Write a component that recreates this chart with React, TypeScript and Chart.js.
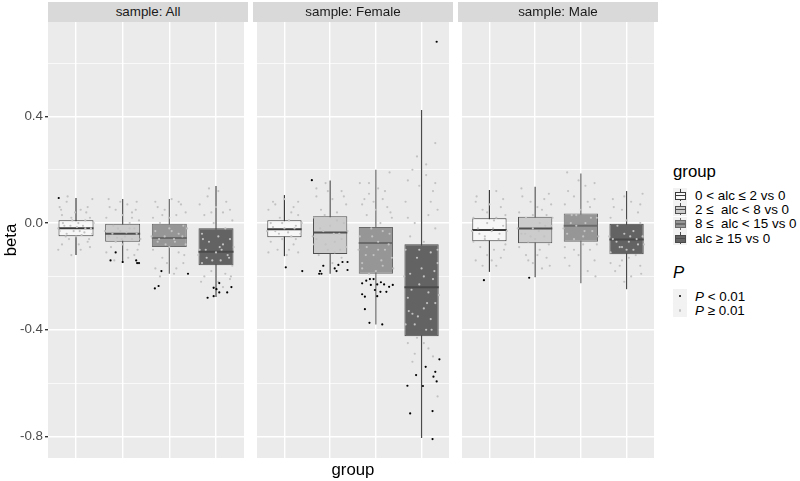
import React, { useEffect, useRef } from "react";
import { Chart, registerables } from "chart.js";

Chart.register(...registerables);

// ---------- data ----------
const PANELS = ["All", "Female", "Male"];
const GROUPS = ["0 < alc \u2264 2 vs 0", "2 \u2264  alc < 8 vs 0", "8 \u2264  alc < 15 vs 0", "alc \u2265 15 vs 0"];
const Y_TICKS = [-0.8, -0.6, -0.4, -0.2, 0, 0.2, 0.4, 0.6];
const Y_LABELLED = [-0.8, -0.4, 0, 0.4];
const Y_MIN = -0.881;
const Y_MAX = 0.754;

// box statistics, one row per panel (All, Female, Male), one value per group
const WHISKER_LO = [
  [-0.12, -0.15, -0.19, -0.277],
  [-0.124, -0.19, -0.38, -0.806],
  [-0.183, -0.203, -0.226, -0.248],
];
const Q1 = [
  [-0.049, -0.07, -0.09, -0.158],
  [-0.053, -0.116, -0.19, -0.424],
  [-0.068, -0.076, -0.07, -0.117],
];
const MEDIAN = [
  [-0.019, -0.04, -0.056, -0.108],
  [-0.023, -0.035, -0.075, -0.241],
  [-0.026, -0.02, -0.01, -0.062],
];
const Q3 = [
  [0.011, 0.0, 0.0, -0.019],
  [0.011, 0.026, -0.015, -0.079],
  [0.018, 0.024, 0.036, 0.0],
];
const WHISKER_HI = [
  [0.094, 0.09, 0.09, 0.139],
  [0.105, 0.16, 0.2, 0.424],
  [0.124, 0.136, 0.186, 0.12],
];

// jittered estimates: [group, jitter offset, beta]
const SIG_ALL = [
  [0, -0.37, 0.094],
  [1, -0.26, -0.14], [1, -0.15, -0.11], [1, 0.0, -0.146], [1, 0.29, -0.14], [1, 0.31, -0.15], [1, 0.35, -0.15],
  [2, -0.17, -0.18], [2, -0.31, -0.245], [2, -0.23, -0.236], [2, 0.4, -0.19],
  [3, -0.18, -0.28], [3, -0.05, -0.274], [3, 0.01, -0.248], [3, 0.07, -0.225], [3, 0.07, -0.26], [3, 0.24, -0.26], [3, 0.33, -0.24], [3, -0.05, -0.243],
];
const SIG_FEMALE = [
  [0, 0.03, -0.166], [0, 0.39, -0.18],
  [1, -0.4, 0.161], [1, -0.15, -0.16], [1, -0.22, -0.18], [1, -0.24, -0.19], [1, -0.19, -0.19], [1, 0.1, -0.17],
  [1, 0.14, -0.18], [1, 0.18, -0.157], [1, 0.27, -0.146], [1, 0.38, -0.146], [1, 0.38, -0.176],
  [2, -0.3, -0.226], [2, -0.21, -0.216], [2, -0.13, -0.21], [2, -0.05, -0.21], [2, 0.03, -0.23], [2, 0.11, -0.222],
  [2, 0.18, -0.23], [2, 0.23, -0.258], [2, 0.29, -0.239], [2, 0.37, -0.232], [2, -0.3, -0.267], [2, -0.24, -0.276],
  [2, -0.02, -0.251], [2, 0.03, -0.274], [2, 0.1, -0.258], [2, -0.24, -0.323], [2, -0.14, -0.374], [2, 0.14, -0.38], [2, -0.11, -0.232],
  [3, 0.33, 0.68], [3, 0.39, -0.511], [3, 0.09, -0.539], [3, -0.12, -0.57], [3, 0.3, -0.558], [3, 0.26, -0.576],
  [3, 0.33, -0.594], [3, -0.31, -0.61], [3, 0.03, -0.611], [3, -0.25, -0.714], [3, 0.24, -0.705], [3, 0.24, -0.81],
];
const SIG_MALE = [
  [0, -0.12, -0.214],
  [1, -0.13, -0.205],
];

const NS_ALL = [
  [0, -0.35, 0.06], [0, -0.2, 0.08], [0, 0.1, 0.05], [0, 0.25, 0.06], [0, 0.35, 0.09], [0, -0.3, 0.03], [0, 0.3, 0.02],
  [0, -0.1, 0.02], [0, 0.05, 0.0], [0, -0.25, -0.01], [0, 0.2, -0.02], [0, -0.05, -0.03], [0, 0.15, -0.01], [0, -0.35, -0.03],
  [0, 0.35, -0.04], [0, 0.0, -0.05], [0, -0.15, -0.06], [0, 0.25, -0.07], [0, -0.3, -0.08], [0, 0.1, -0.1], [0, -0.1, -0.12],
  [0, 0.3, -0.09], [0, 0.2, 0.01], [0, -0.2, -0.04], [0, 0.08, -0.03],
  [0, -0.38, -0.02], [0, -0.28, 0.0], [0, -0.12, -0.01], [0, 0.02, -0.015], [0, 0.18, -0.035], [0, 0.32, -0.02], [0, -0.22, -0.05],
  [0, 0.12, -0.045], [0, -0.08, 0.01], [0, 0.38, 0.0], [0, -0.32, 0.05], [0, 0.22, 0.04], [0, -0.02, 0.04], [0, 0.28, -0.06],
  [0, -0.18, 0.1], [0, 0.06, -0.08], [0, -0.38, -0.1],
  [1, -0.3, 0.09], [1, 0.1, 0.07], [1, 0.3, 0.08], [1, -0.15, 0.05], [1, 0.2, 0.04], [1, -0.35, 0.02], [1, 0.0, 0.03],
  [1, 0.35, 0.01], [1, -0.2, -0.01], [1, 0.15, -0.02], [1, -0.05, -0.03], [1, 0.3, -0.04], [1, -0.3, -0.05], [1, 0.05, -0.05],
  [1, 0.2, -0.06], [1, -0.15, -0.07], [1, 0.35, -0.08], [1, -0.25, -0.09], [1, 0.1, -0.1], [1, -0.35, -0.11], [1, 0.25, -0.12],
  [1, 0.0, -0.08], [1, -0.1, -0.02],
  [1, -0.38, -0.03], [1, -0.22, -0.04], [1, 0.08, -0.035], [1, 0.25, -0.02], [1, -0.12, -0.055], [1, 0.38, -0.06], [1, 0.15, 0.0],
  [1, -0.28, 0.06], [1, 0.28, 0.05], [1, -0.05, 0.08], [1, 0.12, -0.13], [1, -0.18, -0.14], [1, 0.32, -0.1], [1, -0.02, -0.06],
  [1, 0.2, 0.02],
  [2, -0.3, 0.08], [2, 0.05, 0.09], [2, 0.25, 0.07], [2, -0.1, 0.05], [2, 0.35, 0.04], [2, -0.35, 0.02], [2, 0.15, 0.03],
  [2, -0.2, 0.0], [2, 0.3, -0.01], [2, 0.0, -0.02], [2, -0.3, -0.03], [2, 0.2, -0.04], [2, -0.1, -0.05], [2, 0.1, -0.06],
  [2, -0.25, -0.07], [2, 0.35, -0.08], [2, 0.0, -0.09], [2, -0.35, -0.1], [2, 0.2, -0.11], [2, -0.15, -0.13], [2, 0.3, -0.15],
  [2, -0.3, -0.17], [2, 0.1, -0.19],
  [2, -0.38, -0.05], [2, -0.22, -0.06], [2, 0.12, -0.07], [2, 0.28, -0.05], [2, -0.08, -0.08], [2, 0.05, -0.03], [2, 0.38, -0.02],
  [2, -0.15, 0.03], [2, 0.2, 0.08], [2, -0.25, 0.06], [2, 0.32, -0.12], [2, -0.05, -0.15], [2, 0.15, -0.17], [2, -0.2, -0.2],
  [2, 0.0, 0.02],
  [3, -0.15, 0.13], [3, -0.35, 0.07], [3, 0.0, 0.06], [3, 0.3, 0.05], [3, 0.15, 0.04], [3, -0.25, 0.03], [3, 0.35, 0.01],
  [3, -0.05, 0.0], [3, 0.2, -0.02], [3, -0.3, -0.04], [3, 0.05, -0.05], [3, 0.3, -0.06], [3, -0.15, -0.07], [3, 0.15, -0.08],
  [3, -0.35, -0.1], [3, 0.0, -0.11], [3, 0.25, -0.12], [3, -0.2, -0.13], [3, 0.1, -0.14], [3, -0.3, -0.15], [3, 0.35, -0.16],
  [3, -0.1, -0.18], [3, 0.2, -0.19], [3, -0.25, -0.2], [3, 0.05, -0.22], [3, 0.3, -0.21], [3, -0.05, -0.24],
  [3, -0.38, -0.12], [3, -0.22, -0.1], [3, 0.12, -0.1], [3, 0.28, -0.13], [3, -0.08, -0.14], [3, 0.08, -0.09], [3, 0.38, -0.09],
  [3, -0.28, -0.06], [3, 0.22, 0.08], [3, -0.18, 0.1], [3, 0.05, 0.12], [3, -0.1, 0.04], [3, 0.32, -0.2], [3, -0.32, -0.22],
  [3, 0.15, -0.24],
];
const NS_FEMALE = [
  [0, -0.35, 0.05], [0, -0.2, 0.07], [0, 0.0, 0.09], [0, 0.2, 0.06], [0, 0.3, 0.03], [0, -0.1, 0.02], [0, 0.1, 0.01],
  [0, -0.3, 0.0], [0, 0.25, -0.01], [0, 0.0, -0.02], [0, -0.2, -0.03], [0, 0.35, -0.04], [0, 0.15, -0.05], [0, -0.05, -0.06],
  [0, -0.3, -0.07], [0, 0.2, -0.08], [0, -0.15, -0.1], [0, 0.3, -0.11], [0, 0.05, -0.12],
  [0, -0.38, -0.03], [0, -0.25, -0.015], [0, 0.08, -0.035], [0, 0.22, -0.02], [0, 0.38, 0.0], [0, -0.12, -0.04], [0, 0.15, 0.04],
  [0, -0.25, 0.08], [0, 0.3, 0.08], [0, -0.05, 0.0], [0, 0.1, -0.1], [0, -0.35, -0.11], [0, 0.25, -0.06],
  [1, -0.1, 0.15], [1, 0.25, 0.12], [1, -0.3, 0.1], [1, 0.05, 0.09], [1, 0.35, 0.07], [1, -0.2, 0.05], [1, 0.15, 0.04],
  [1, -0.35, 0.02], [1, 0.3, 0.0], [1, 0.0, -0.01], [1, -0.15, -0.03], [1, 0.2, -0.04], [1, -0.3, -0.06], [1, 0.1, -0.07],
  [1, 0.35, -0.09], [1, -0.05, -0.1], [1, -0.25, -0.12], [1, 0.25, -0.13], [1, 0.05, -0.15], [1, -0.15, -0.16],
  [1, -0.38, -0.05], [1, -0.22, -0.02], [1, 0.08, -0.04], [1, 0.25, -0.06], [1, -0.1, -0.08], [1, 0.38, -0.03], [1, 0.15, 0.01],
  [1, -0.3, 0.13], [1, 0.3, 0.1], [1, -0.05, 0.12], [1, 0.1, -0.11], [1, -0.12, 0.03], [1, 0.22, -0.1], [1, -0.35, -0.08],
  [2, -0.35, 0.15], [2, 0.3, 0.19], [2, 0.05, 0.13], [2, -0.15, 0.11], [2, 0.15, 0.09], [2, -0.3, 0.07], [2, 0.25, 0.06],
  [2, 0.0, 0.05], [2, -0.2, 0.03], [2, 0.35, 0.02], [2, 0.1, 0.0], [2, -0.1, -0.02], [2, 0.3, -0.04], [2, -0.35, -0.05],
  [2, 0.05, -0.07], [2, -0.2, -0.09], [2, 0.2, -0.1], [2, -0.05, -0.12], [2, 0.35, -0.13], [2, -0.3, -0.15], [2, 0.15, -0.16],
  [2, 0.0, -0.18], [2, -0.15, -0.19],
  [2, -0.38, -0.1], [2, -0.22, -0.12], [2, 0.12, -0.14], [2, 0.28, -0.08], [2, -0.08, -0.05], [2, 0.05, -0.1], [2, 0.38, -0.17],
  [2, -0.15, 0.15], [2, 0.2, 0.12], [2, -0.25, 0.09], [2, 0.32, 0.04], [2, -0.05, 0.08], [2, 0.15, -0.03], [2, -0.3, -0.17],
  [3, 0.3, 0.3], [3, -0.2, 0.2], [3, 0.1, 0.18], [3, -0.3, 0.16], [3, 0.25, 0.12], [3, -0.05, 0.14], [3, 0.35, 0.05],
  [3, -0.35, 0.08], [3, 0.15, 0.03], [3, -0.15, 0.0], [3, 0.3, -0.02], [3, -0.25, -0.05], [3, 0.05, -0.07], [3, -0.35, -0.1],
  [3, 0.2, -0.11], [3, -0.1, -0.13], [3, 0.35, -0.15], [3, 0.0, -0.17], [3, -0.25, -0.19], [3, 0.25, -0.21], [3, -0.05, -0.23],
  [3, 0.15, -0.26], [3, -0.3, -0.28], [3, 0.3, -0.3], [3, 0.05, -0.32], [3, -0.2, -0.34], [3, 0.2, -0.36], [3, -0.35, -0.38],
  [3, 0.1, -0.4], [3, -0.1, -0.43], [3, -0.3, -0.45], [3, 0.15, -0.47], [3, -0.15, -0.49], [3, 0.35, -0.65],
  [3, -0.38, -0.2], [3, -0.22, -0.25], [3, 0.12, -0.3], [3, 0.28, -0.18], [3, -0.08, -0.35], [3, 0.05, -0.2], [3, 0.38, -0.27],
  [3, -0.28, -0.33], [3, 0.22, -0.4], [3, -0.15, -0.38], [3, 0.35, -0.1], [3, -0.05, -0.1], [3, 0.2, 0.08], [3, -0.3, 0.02],
  [3, 0.1, 0.22], [3, -0.1, 0.25], [3, 0.25, -0.5], [3, -0.2, -0.52], [3, 0.05, -0.45], [3, 0.3, 0.15],
];
const NS_MALE = [
  [0, 0.15, 0.12], [0, -0.3, 0.08], [0, 0.0, 0.07], [0, 0.25, 0.06], [0, -0.15, 0.05], [0, 0.35, 0.03], [0, -0.35, 0.02],
  [0, 0.1, 0.01], [0, -0.05, 0.0], [0, 0.3, -0.01], [0, -0.25, -0.02], [0, 0.05, -0.03], [0, -0.1, -0.05], [0, 0.2, -0.06],
  [0, -0.35, -0.07], [0, 0.35, -0.08], [0, -0.2, -0.09], [0, 0.1, -0.1], [0, -0.05, -0.12], [0, 0.25, -0.13], [0, -0.3, -0.14],
  [0, 0.15, -0.16],
  [0, -0.38, -0.03], [0, -0.22, -0.04], [0, 0.08, -0.02], [0, 0.22, -0.04], [0, 0.38, -0.03], [0, -0.1, -0.06], [0, 0.15, 0.02],
  [0, -0.28, 0.1], [0, 0.3, 0.09], [0, -0.05, 0.04], [0, 0.05, -0.14], [0, -0.15, -0.16], [0, 0.32, -0.1],
  [1, -0.3, 0.13], [1, 0.2, 0.09], [1, 0.35, 0.07], [1, -0.1, 0.08], [1, 0.05, 0.06], [1, -0.35, 0.04], [1, 0.25, 0.03],
  [1, -0.2, 0.02], [1, 0.1, 0.0], [1, 0.35, -0.01], [1, -0.05, -0.02], [1, -0.3, -0.04], [1, 0.2, -0.05], [1, 0.0, -0.06],
  [1, -0.15, -0.07], [1, 0.3, -0.08], [1, -0.35, -0.09], [1, 0.1, -0.1], [1, -0.2, -0.12], [1, 0.25, -0.13], [1, -0.05, -0.15],
  [1, 0.15, -0.17],
  [1, -0.38, -0.02], [1, -0.22, -0.04], [1, 0.08, -0.03], [1, 0.22, -0.01], [1, 0.38, 0.02], [1, -0.1, -0.05], [1, 0.15, 0.05],
  [1, -0.28, 0.1], [1, 0.3, 0.11], [1, -0.05, 0.03], [1, 0.05, -0.12], [1, -0.15, -0.14], [1, 0.32, -0.16],
  [2, -0.3, 0.19], [2, 0.1, 0.14], [2, -0.15, 0.1], [2, 0.3, 0.09], [2, -0.35, 0.07], [2, 0.2, 0.06], [2, 0.0, 0.05],
  [2, -0.2, 0.03], [2, 0.35, 0.02], [2, 0.1, 0.0], [2, -0.1, -0.01], [2, 0.25, -0.03], [2, -0.3, -0.04], [2, 0.05, -0.05],
  [2, -0.15, -0.06], [2, 0.35, -0.08], [2, -0.35, -0.09], [2, 0.2, -0.1], [2, -0.05, -0.12], [2, 0.3, -0.14], [2, -0.25, -0.16],
  [2, 0.15, -0.18],
  [2, -0.38, -0.02], [2, -0.22, 0.0], [2, 0.08, -0.03], [2, 0.22, 0.02], [2, 0.38, -0.05], [2, -0.1, 0.03], [2, 0.15, 0.08],
  [2, -0.28, 0.12], [2, 0.3, 0.15], [2, -0.05, 0.16], [2, 0.05, -0.08], [2, -0.15, -0.1], [2, 0.32, -0.2], [2, -0.35, -0.13],
  [3, -0.3, 0.09], [3, 0.1, 0.08], [3, 0.35, 0.11], [3, -0.1, 0.05], [3, 0.25, 0.04], [3, -0.35, 0.02], [3, 0.0, 0.01],
  [3, 0.3, 0.0], [3, -0.2, -0.01], [3, 0.15, -0.03], [3, -0.05, -0.04], [3, 0.35, -0.05], [3, -0.3, -0.06], [3, 0.05, -0.07],
  [3, 0.25, -0.08], [3, -0.15, -0.09], [3, 0.0, -0.1], [3, -0.35, -0.11], [3, 0.2, -0.12], [3, -0.1, -0.14], [3, 0.3, -0.16],
  [3, -0.25, -0.18], [3, 0.1, -0.2], [3, -0.05, -0.22],
  [3, -0.38, -0.05], [3, -0.22, -0.07], [3, 0.08, -0.05], [3, 0.22, -0.06], [3, 0.38, -0.08], [3, -0.1, -0.09], [3, 0.15, -0.1],
  [3, -0.28, 0.06], [3, 0.3, 0.07], [3, -0.05, 0.1], [3, 0.05, -0.13], [3, -0.15, -0.16], [3, 0.32, -0.19], [3, -0.35, -0.15],
];
const SIG = [SIG_ALL, SIG_FEMALE, SIG_MALE];
const NS = [NS_ALL, NS_FEMALE, NS_MALE];

// ---------- style ----------
const FONT = "'Liberation Sans', Arial, Helvetica, sans-serif";
const FILLS = ["#F7F7F7", "#CCCCCC", "#969696", "#636363"];
const OUTLINES = ["#3A3A3A", "#505050", "#6A6A6A", "#4A4A4A"];
const NS_COLOR = "#C2C2C2";
const PANEL_LEFT = [48, 253, 458];
const PANEL_W = 200;
const PANEL_TOP = 22;
const PANEL_BOTTOM = 458;
const H = 481;

const bgPlugin = {
  id: "panelBg",
  beforeDraw(chart: any) {
    const { ctx, chartArea: a } = chart;
    ctx.save();
    ctx.fillStyle = "#EBEBEB";
    ctx.fillRect(a.left, a.top, a.right - a.left, a.bottom - a.top);
    ctx.restore();
  },
};

function Panel({ p }: { p: number }) {
  const ref = useRef<HTMLCanvasElement>(null);
  const showY = p === 0;
  const w = showY ? PANEL_LEFT[0] + PANEL_W : PANEL_W;
  const left = showY ? 0 : PANEL_LEFT[p];

  useEffect(() => {
    const xs = [1, 2, 3, 4];
    const segColor = (per: number) => (c: any) => OUTLINES[Math.floor(c.p0DataIndex / per)];
    const chart = new Chart(ref.current as HTMLCanvasElement, {
      type: "bar",
      data: {
        datasets: [
          {
            type: "scatter",
            label: "P < 0.01",
            data: SIG[p].map(([g, dx, v]) => ({ x: g + 1 + dx, y: v })),
            pointRadius: 1.1,
            pointBackgroundColor: "#000000",
            pointBorderWidth: 0,
            order: 0,
          },
          {
            type: "scatter",
            label: "P \u2265 0.01",
            data: NS[p].map(([g, dx, v]) => ({ x: g + 1 + dx, y: v })),
            pointRadius: 1.1,
            pointBackgroundColor: NS_COLOR,
            pointBorderWidth: 0,
            order: 1,
          },
          {
            type: "line",
            label: "median",
            data: xs.flatMap((x, i) => [
              { x: x - 0.375, y: MEDIAN[p][i] },
              { x: x + 0.375, y: MEDIAN[p][i] },
              { x: x + 0.5, y: null },
            ]),
            borderWidth: 2,
            borderColor: "#333333",
            segment: { borderColor: segColor(3) },
            pointRadius: 0,
            spanGaps: false,
            order: 2,
          },
          {
            type: "bar",
            label: "box",
            data: xs.map((x, i) => ({ x, y: [Q1[p][i], Q3[p][i]] })),
            backgroundColor: FILLS,
            borderColor: OUTLINES,
            borderWidth: 1,
            borderSkipped: false,
            barPercentage: 0.75,
            categoryPercentage: 1,
            grouped: false,
            order: 3,
          },
          {
            type: "line",
            label: "whisker",
            data: xs.flatMap((x, i) => [
              { x, y: WHISKER_LO[p][i] },
              { x, y: WHISKER_HI[p][i] },
              { x, y: null },
            ]),
            borderWidth: 1.2,
            borderColor: "#555555",
            segment: { borderColor: segColor(3) },
            pointRadius: 0,
            spanGaps: false,
            order: 4,
          },
        ] as any,
      },
      options: {
        animation: false,
        responsive: false,
        events: [],
        layout: { padding: { top: PANEL_TOP, bottom: H - PANEL_BOTTOM, left: 0, right: 0 } },
        plugins: { legend: { display: false }, tooltip: { enabled: false } },
        scales: {
          x: {
            type: "linear",
            min: 0.4,
            max: 4.6,
            offset: false,
            afterBuildTicks: (s: any) => {
              s.ticks = xs.map((value) => ({ value }));
            },
            afterFit: (s: any) => {
              s.height = 0;
            },
            ticks: { display: false },
            grid: { color: "#FFFFFF", lineWidth: 1.4, drawTicks: false, offset: false },
            border: { display: false },
          },
          y: {
            type: "linear",
            min: Y_MIN,
            max: Y_MAX,
            afterBuildTicks: (s: any) => {
              s.ticks = Y_TICKS.map((value) => ({ value }));
            },
            afterFit: (s: any) => {
              s.width = showY ? PANEL_LEFT[0] : 0;
            },
            ticks: {
              display: showY,
              padding: 2,
              color: "#4D4D4D",
              font: { family: FONT, size: 13.4 },
              callback: (v: any) => (Y_LABELLED.includes(v) ? Number(v).toFixed(1) : ""),
            },
            grid: {
              color: "#FFFFFF",
              lineWidth: (c: any) => (Y_LABELLED.includes(c.tick && c.tick.value) ? 1.4 : 0.7),
              drawTicks: showY,
              tickLength: 3,
              tickColor: (c: any) => (Y_LABELLED.includes(c.tick && c.tick.value) ? "#333333" : "rgba(0,0,0,0)"),
            },
            border: { display: false },
          },
        },
      } as any,
      plugins: [bgPlugin],
    });
    return () => chart.destroy();
  }, [p]);

  return (
    <canvas
      ref={ref}
      width={w}
      height={H}
      style={{ position: "absolute", left, top: 0, width: w, height: H }}
    />
  );
}

function BoxKey({ i }: { i: number }) {
  return (
    <div style={{ position: "relative", width: 14, height: 14, background: "#F2F2F2" }}>
      <div style={{ position: "absolute", left: 7, top: 1, width: 1, height: 12, background: OUTLINES[i] }} />
      <div
        style={{
          position: "absolute",
          left: 2,
          top: 3.5,
          width: 9,
          height: 6,
          background: FILLS[i],
          border: `1px solid ${OUTLINES[i]}`,
        }}
      />
      <div style={{ position: "absolute", left: 2, top: 6.5, width: 11, height: 1.5, background: OUTLINES[i] }} />
    </div>
  );
}

function DotKey({ color }: { color: string }) {
  return (
    <div style={{ position: "relative", width: 14, height: 14, background: "#F2F2F2" }}>
      <div style={{ position: "absolute", left: 6, top: 6, width: 2.2, height: 2.2, borderRadius: 2, background: color }} />
    </div>
  );
}

export default function App() {
  const text = { fontFamily: FONT, position: "absolute" as const, whiteSpace: "pre" as const };
  const rowTops = [188, 202.4, 216.8, 231.2];
  return (
    <div
      style={{
        position: "fixed",
        left: 0,
        top: 0,
        width: 800,
        height: H,
        background: "#FFFFFF",
        overflow: "hidden",
      }}
    >
      {PANELS.map((_, p) => (
        <Panel key={p} p={p} />
      ))}
      {PANELS.map((name, p) => (
        <div
          key={"s" + p}
          style={{
            ...text,
            left: PANEL_LEFT[p],
            top: 2,
            width: PANEL_W,
            height: 20,
            lineHeight: "20px",
            textAlign: "center",
            background: "#D9D9D9",
            color: "#1A1A1A",
            fontSize: 13.4,
          }}
        >
          {"sample: " + name}
        </div>
      ))}
      <div
        style={{
          ...text,
          left: 11 - 30,
          top: 240 - 10,
          width: 60,
          height: 20,
          lineHeight: "20px",
          textAlign: "center",
          fontSize: 16.8,
          color: "#000",
          transform: "rotate(-90deg)",
        }}
      >
        beta
      </div>
      <div
        style={{
          ...text,
          left: 353 - 40,
          top: 460,
          width: 80,
          height: 20,
          lineHeight: "20px",
          textAlign: "center",
          fontSize: 16.8,
          color: "#000",
        }}
      >
        group
      </div>
      <div style={{ ...text, left: 673, top: 162, fontSize: 16.8, lineHeight: "20px", color: "#000" }}>group</div>
      {GROUPS.map((g, i) => (
        <div key={"g" + i} style={{ position: "absolute", left: 673, top: rowTops[i], display: "flex", alignItems: "center", height: 14 }}>
          <BoxKey i={i} />
          <span style={{ fontFamily: FONT, fontSize: 13.4, color: "#000", marginLeft: 8, whiteSpace: "pre" }}>{g}</span>
        </div>
      ))}
      <div style={{ ...text, left: 673, top: 263, fontSize: 16.8, lineHeight: "20px", color: "#000", fontStyle: "italic" }}>P</div>
      {[
        { c: "#000000", op: "<" },
        { c: NS_COLOR, op: "\u2265" },
      ].map((d, i) => (
        <div key={"p" + i} style={{ position: "absolute", left: 673, top: 289 + i * 14.4, display: "flex", alignItems: "center", height: 14 }}>
          <DotKey color={d.c} />
          <span style={{ fontFamily: FONT, fontSize: 13.4, color: "#000", marginLeft: 8, whiteSpace: "pre" }}>
            <i>P</i>
            {" " + d.op + " 0.01"}
          </span>
        </div>
      ))}
    </div>
  );
}
